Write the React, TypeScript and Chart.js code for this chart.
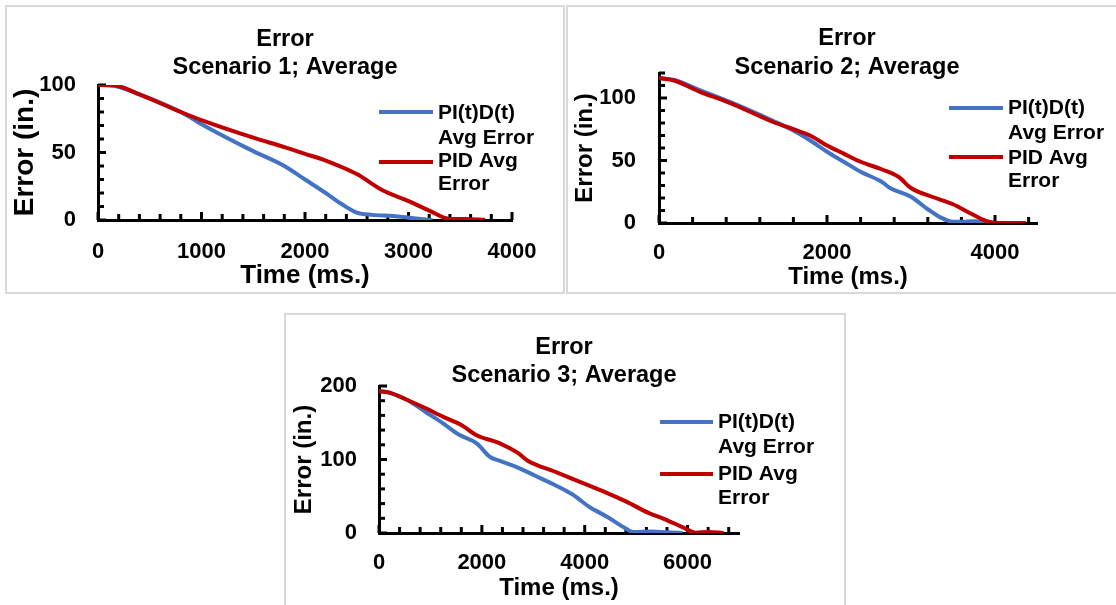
import React, { useEffect, useRef } from 'react';
import { Chart, registerables } from 'chart.js';

Chart.register(...registerables);

const FONT = "'Liberation Sans', Arial, Helvetica, sans-serif";
const BLUE = '#4472C4';
const RED = '#C00000';

const SERIES_NAMES = ['PI(t)D(t) Avg Error', 'PID Avg Error'];
const LEGEND_LINES_1 = ['PI(t)D(t)', 'Avg Error'];
const LEGEND_LINES_2 = ['PID Avg', 'Error'];
const X_TITLE = 'Time (ms.)';
const Y_TITLE = 'Error (in.)';

// Scenario 1
const s1PitdTime = [0, 150, 400, 800, 1000, 1500, 1800, 2000, 2200, 2350, 2500, 2650, 2850, 3050, 3230];
const s1PitdError = [100, 99.5, 93, 80, 71, 51, 40, 30, 20, 12, 5.5, 3.8, 3, 1.3, 0];
const s1PidTime = [0, 150, 400, 800, 1000, 1500, 1800, 2000, 2200, 2500, 2750, 3000, 3200, 3400, 3550, 3740];
const s1PidError = [100, 99.8, 93, 80, 74, 61, 54, 49, 44, 34, 22, 14, 7, 0.8, 0.8, 0];

// Scenario 2
const s2PitdTime = [0, 180, 500, 950, 1350, 1600, 1800, 2000, 2200, 2400, 2650, 2750, 3000, 3200, 3350, 3500, 3600, 3750, 3900];
const s2PitdError = [116, 114.5, 106, 94, 82, 74, 66, 57, 49, 41, 33, 28, 21, 11, 4.5, 1, 1, 1.5, 0];
const s2PidTime = [0, 180, 500, 750, 950, 1350, 1600, 1800, 2000, 2200, 2400, 2650, 2850, 3000, 3250, 3500, 3700, 3900, 4050, 4370];
const s2PidError = [116, 114, 104.5, 98.5, 93, 81, 75, 70, 62, 55.5, 49, 43, 37, 28, 21, 15, 8, 1.5, 0, 0];

// Scenario 3
const s3PitdTime = [0, 200, 550, 900, 1250, 1550, 1900, 2150, 2350, 2700, 3050, 3400, 3750, 4100, 4450, 4750, 4950, 5300, 5600, 5900];
const s3PitdError = [193, 191, 181, 165, 149, 134, 122, 104, 98, 89, 77.5, 66, 53, 35, 21.5, 8, 1.5, 2.2, 1, 0];
const s3PidTime = [0, 200, 550, 900, 1250, 1600, 1900, 2350, 2700, 2900, 3400, 3750, 4100, 4450, 4800, 5250, 5550, 5900, 6150, 6400, 6700];
const s3PidError = [193, 191, 181, 170, 158, 147, 133, 122, 109, 98, 84, 74, 64, 54, 43, 27, 19, 8, 0.5, 1.5, 0];

// Axis ranges and tick units
const xMax = [4000, 4500, 7000];
const xMinor = [200, 400, 400];
const xMajor = [1000, 2000, 2000];
const yMax = [100, 120, 200];
const yMinor = [10, 10, 20];
const yMajor = [50, 50, 100];
const titles = [
  ['Error', 'Scenario 1; Average'],
  ['Error', 'Scenario 2; Average'],
  ['Error', 'Scenario 3; Average'],
];

type Layout = {
  box: { x: number; y: number; w: number; h: number };
  canvas: { w: number; h: number };
  area: { left: number; right: number; top: number; bottom: number };
  yTitleSize: number;
  yTitlePad: number;
  yTickPad: number;
  xTitleSize: number;
  xTitlePad: number;
  xTickPad: number;
  titleX: number;
  titleY: number[];
  legend: { x1: number; x2: number; tx: number; l1: number; l2: number; t: number[] };
};

const layouts: Layout[] = [
  {
    box: { x: 5, y: 5, w: 560, h: 289 },
    canvas: { w: 560, h: 288 },
    area: { left: 93, right: 507, top: 80, bottom: 215 },
    yTitleSize: 28, yTitlePad: 3, yTickPad: 22,
    xTitleSize: 26, xTitlePad: 1.5, xTickPad: 18.5,
    titleX: 280, titleY: [35, 63],
    legend: { x1: 374, x2: 428, tx: 433, l1: 107, l2: 157, t: [108, 133, 156, 179] },
  },
  {
    box: { x: 566, y: 5, w: 560, h: 289 },
    canvas: { w: 550, h: 288 },
    area: { left: 93, right: 471, top: 68, bottom: 218 },
    yTitleSize: 24, yTitlePad: 4.5, yTickPad: 23,
    xTitleSize: 24, xTitlePad: 1.5, xTickPad: 16.5,
    titleX: 281, titleY: [34, 63],
    legend: { x1: 383, x2: 437, tx: 442, l1: 103, l2: 152, t: [103, 128, 153, 176] },
  },
  {
    box: { x: 284, y: 313, w: 562, h: 300 },
    canvas: { w: 561, h: 292 },
    area: { left: 95, right: 455, top: 73, bottom: 220 },
    yTitleSize: 24, yTitlePad: 5.5, yTickPad: 22,
    xTitleSize: 24, xTitlePad: 2.5, xTickPad: 16.5,
    titleX: 280, titleY: [35, 63],
    legend: { x1: 376, x2: 429, tx: 434, l1: 109, l2: 161, t: [109, 134, 161, 185] },
  },
];

const seriesData = [
  [[s1PitdTime, s1PitdError], [s1PidTime, s1PidError]],
  [[s2PitdTime, s2PitdError], [s2PidTime, s2PidError]],
  [[s3PitdTime, s3PitdError], [s3PidTime, s3PidError]],
];

const isMultiple = (v: number, m: number) => Math.abs(v / m - Math.round(v / m)) < 1e-6;

const tickValues = (max: number, step: number) => {
  const out: { value: number }[] = [];
  for (let k = 0; k * step <= max + 1e-9; k++) out.push({ value: k * step });
  return out;
};

const decorPlugin = {
  id: 'decor',
  beforeDatasetsDraw(chart: any, _args: any, opts: any) {
    const ctx = chart.ctx;
    const xs = chart.scales.x;
    const ys = chart.scales.y;
    const { left, bottom } = chart.chartArea;
    ctx.save();
    ctx.strokeStyle = '#000';
    ctx.lineWidth = 3;
    xs.ticks.forEach((t: any) => {
      const px = xs.getPixelForValue(t.value);
      const len = isMultiple(t.value, opts.xMajor) ? 8 : 6;
      ctx.beginPath();
      ctx.moveTo(px, bottom);
      ctx.lineTo(px, bottom - len);
      ctx.stroke();
    });
    ys.ticks.forEach((t: any) => {
      const py = ys.getPixelForValue(t.value);
      const len = isMultiple(t.value, opts.yMajor) ? 8 : 6;
      ctx.beginPath();
      ctx.moveTo(left, py);
      ctx.lineTo(left + len, py);
      ctx.stroke();
    });
    ctx.restore();
  },
  afterDraw(chart: any, _args: any, opts: any) {
    const ctx = chart.ctx;
    const L: Layout = opts.layout;
    ctx.save();
    ctx.fillStyle = '#000';
    ctx.textBaseline = 'middle';
    ctx.textAlign = 'center';
    ctx.font = `bold 23.5px ${FONT}`;
    opts.title.forEach((line: string, i: number) => ctx.fillText(line, L.titleX, L.titleY[i]));
    const lg = L.legend;
    ctx.lineWidth = 4;
    ctx.lineCap = 'butt';
    ctx.strokeStyle = BLUE;
    ctx.beginPath();
    ctx.moveTo(lg.x1, lg.l1);
    ctx.lineTo(lg.x2, lg.l1);
    ctx.stroke();
    ctx.strokeStyle = RED;
    ctx.beginPath();
    ctx.moveTo(lg.x1, lg.l2);
    ctx.lineTo(lg.x2, lg.l2);
    ctx.stroke();
    ctx.textAlign = 'left';
    ctx.font = `bold 21px ${FONT}`;
    const lines = [...LEGEND_LINES_1, ...LEGEND_LINES_2];
    lines.forEach((s, i) => ctx.fillText(s, lg.tx, lg.t[i]));
    ctx.restore();
  },
};

function buildConfig(i: number): any {
  const L = layouts[i];
  const [[bt, bv], [rt, rv]] = seriesData[i];
  const tickFont = { family: FONT, size: 22, weight: 'bold' as const };
  return {
    type: 'line',
    data: {
      datasets: [
        {
          label: SERIES_NAMES[0],
          data: bt.map((x, k) => ({ x, y: bv[k] })),
          borderColor: BLUE,
          backgroundColor: BLUE,
          borderWidth: 4,
          pointRadius: 0,
          cubicInterpolationMode: 'monotone',
          order: 1,
        },
        {
          label: SERIES_NAMES[1],
          data: rt.map((x, k) => ({ x, y: rv[k] })),
          borderColor: RED,
          backgroundColor: RED,
          borderWidth: 4,
          pointRadius: 0,
          cubicInterpolationMode: 'monotone',
          order: 0,
        },
      ],
    },
    options: {
      responsive: false,
      animation: false,
      devicePixelRatio: 1,
      layout: {
        autoPadding: false,
        padding: { left: 0, top: L.area.top, right: L.canvas.w - L.area.right, bottom: 0 },
      },
      plugins: {
        legend: { display: false },
        title: { display: false },
        tooltip: { enabled: false },
        decor: { layout: L, title: titles[i], xMajor: xMajor[i], yMajor: yMajor[i] },
      },
      scales: {
        x: {
          type: 'linear',
          min: 0,
          max: xMax[i],
          afterBuildTicks: (s: any) => {
            s.ticks = tickValues(xMax[i], xMinor[i]);
          },
          ticks: {
            autoSkip: false,
            maxRotation: 0,
            minRotation: 0,
            padding: L.xTickPad,
            color: '#000',
            font: tickFont,
            callback: (v: number) => (isMultiple(v, xMajor[i]) ? String(v) : ''),
          },
          grid: { display: false, drawTicks: false },
          border: { display: true, color: '#000', width: 3 },
          title: {
            display: true,
            text: X_TITLE,
            color: '#000',
            font: { family: FONT, size: L.xTitleSize, weight: 'bold' },
            padding: { top: 0, bottom: L.xTitlePad },
          },
          afterFit: (s: any) => {
            s.height = L.canvas.h - L.area.bottom;
          },
        },
        y: {
          type: 'linear',
          min: 0,
          max: yMax[i],
          afterBuildTicks: (s: any) => {
            s.ticks = tickValues(yMax[i], yMinor[i]);
          },
          ticks: {
            autoSkip: false,
            padding: L.yTickPad,
            color: '#000',
            font: tickFont,
            callback: (v: number) => (isMultiple(v, yMajor[i]) ? String(v) : ''),
          },
          grid: { display: false, drawTicks: false },
          border: { display: true, color: '#000', width: 3 },
          title: {
            display: true,
            text: Y_TITLE,
            color: '#000',
            font: { family: FONT, size: L.yTitleSize, weight: 'bold' },
            padding: { top: L.yTitlePad, bottom: 0 },
          },
          afterFit: (s: any) => {
            s.width = L.area.left;
          },
        },
      },
    },
    plugins: [decorPlugin],
  };
}

function Panel({ index }: { index: number }) {
  const ref = useRef<HTMLCanvasElement>(null);
  const L = layouts[index];
  useEffect(() => {
    const chart = new Chart(ref.current as HTMLCanvasElement, buildConfig(index));
    return () => chart.destroy();
  }, [index]);
  return (
    <>
      <div
        style={{
          position: 'absolute',
          left: L.box.x,
          top: L.box.y,
          width: L.box.w,
          height: L.box.h,
          border: '2px solid #d9d9d9',
          boxSizing: 'border-box',
        }}
      />
      <canvas
        ref={ref}
        width={L.canvas.w}
        height={L.canvas.h}
        style={{ position: 'absolute', left: L.box.x, top: L.box.y, width: L.canvas.w, height: L.canvas.h }}
      />
    </>
  );
}

export default function App() {
  return (
    <div
      style={{
        position: 'absolute',
        left: 0,
        top: 0,
        width: 1116,
        height: 605,
        overflow: 'hidden',
        background: '#fff',
      }}
    >
      <Panel index={0} />
      <Panel index={1} />
      <Panel index={2} />
    </div>
  );
}
